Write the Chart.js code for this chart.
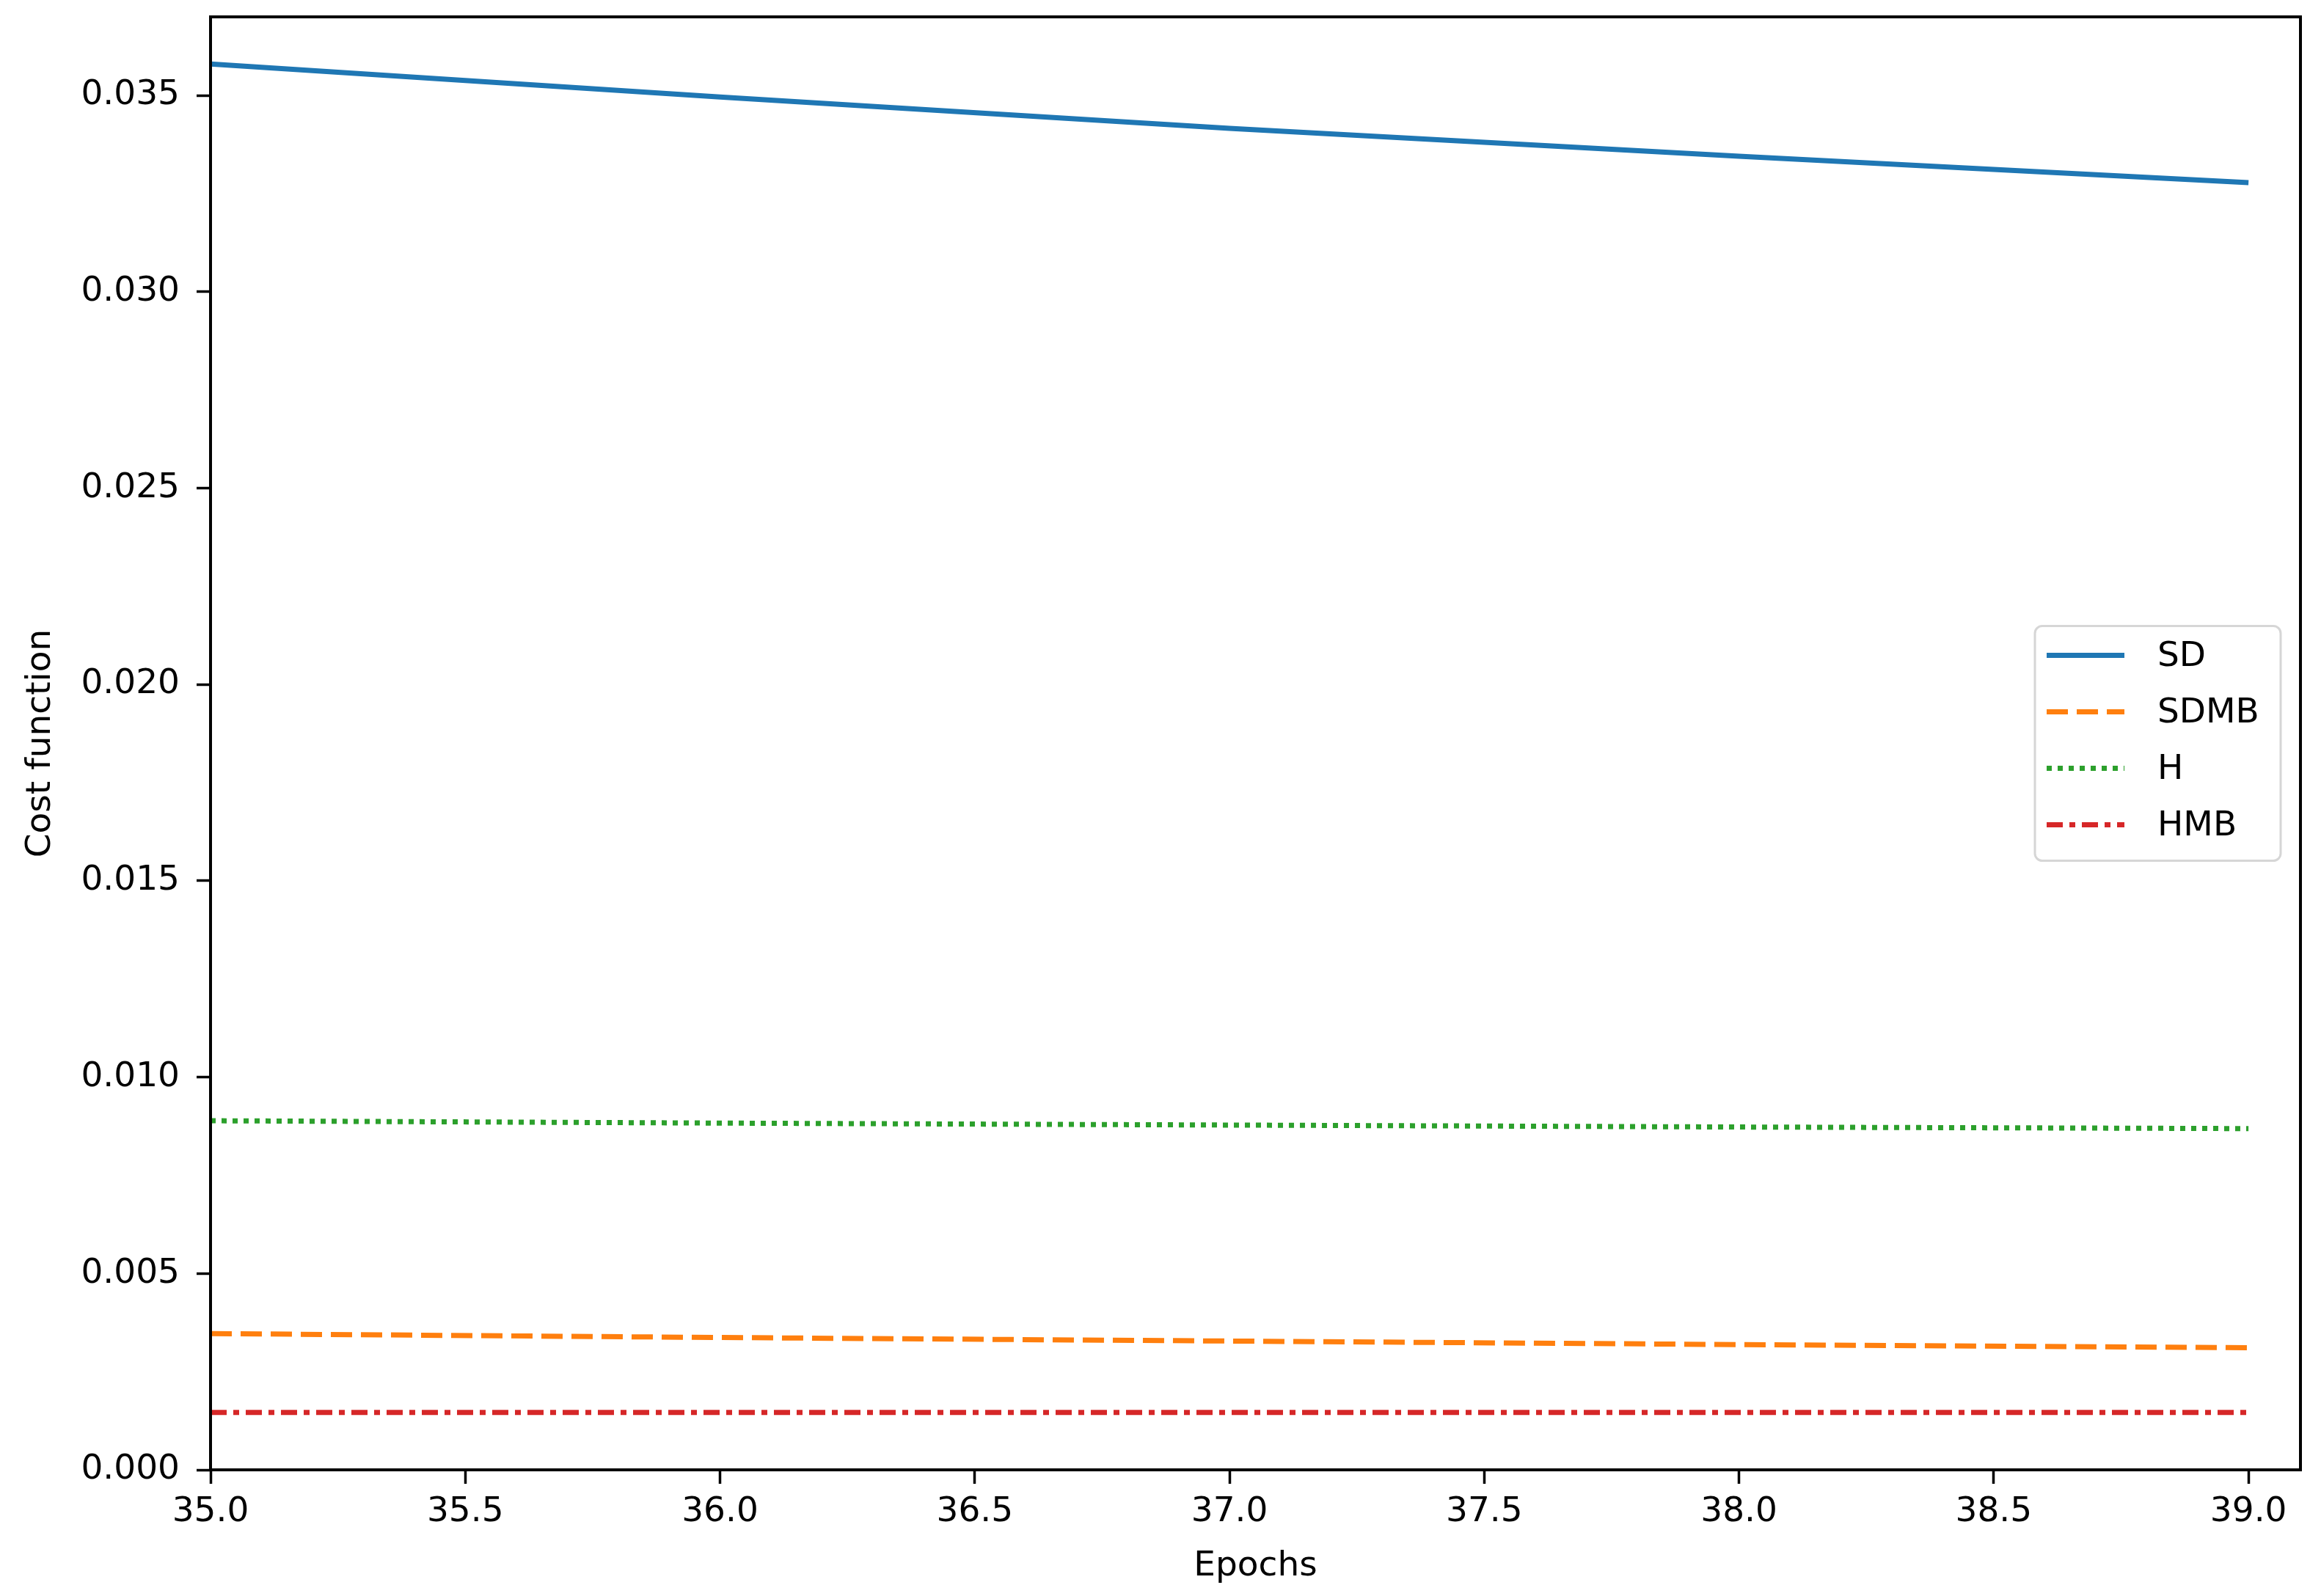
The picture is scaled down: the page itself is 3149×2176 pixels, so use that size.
<!DOCTYPE html>
<html><head><meta charset="utf-8">
<script src="https://cdn.jsdelivr.net/npm/chart.js@4/dist/chart.umd.min.js"></script>
<style>html,body{margin:0;padding:0;background:#fff;} canvas{display:block;}</style>
</head><body>
<canvas id="c" width="3149" height="2176"></canvas>
<script>
const epochs = [35, 36, 37, 38, 39];
const sdValues = [0.03580, 0.03496, 0.03416, 0.03345, 0.03278];
const sdmbValues = [0.00347, 0.00337, 0.00328, 0.00319, 0.00311];
const hValues = [0.00889, 0.00883, 0.00878, 0.00873, 0.00869];
const hmbValues = [0.00146, 0.00146, 0.00146, 0.00146, 0.00146];
const seriesLabels = ['SD', 'SDMB', 'H', 'HMB'];
const xTicks = [35.0, 35.5, 36.0, 36.5, 37.0, 37.5, 38.0, 38.5, 39.0];
const yTicks = [0.000, 0.005, 0.010, 0.015, 0.020, 0.025, 0.030, 0.035];
const xTitle = 'Epochs';
const yTitle = 'Cost function';

const FONT = {family: "'DejaVu Sans', sans-serif", size: 47, lineHeight: 1.2};
const toPts = vals => epochs.map((x, i) => ({x: x, y: vals[i]}));

const styles = [
  {color: '#1f77b4', dash: []},
  {color: '#ff7f0e', dash: [29, 12]},
  {color: '#2ca02c', dash: [7, 8]},
  {color: '#d62728', dash: [22, 9, 8, 9]}
];
const seriesVals = [sdValues, sdmbValues, hValues, hmbValues];

const datasets = seriesLabels.map((lab, i) => ({
  label: lab,
  data: toPts(seriesVals[i]),
  borderColor: styles[i].color,
  backgroundColor: styles[i].color,
  borderWidth: 7,
  borderDash: styles[i].dash,
  borderCapStyle: 'butt',
  pointRadius: 0,
  pointHoverRadius: 0,
  fill: false,
  tension: 0
}));

const frame = {
  id: 'frame',
  afterDatasetsDraw(chart) {
    const {ctx, chartArea: a} = chart;
    ctx.save();
    ctx.strokeStyle = '#000';
    ctx.lineWidth = 4;
    ctx.strokeRect(a.left, a.top, a.right - a.left, a.bottom - a.top);
    ctx.restore();
  }
};

const innerLegend = {
  id: 'innerLegend',
  afterDraw(chart) {
    const {ctx, chartArea: a} = chart;
    const w = 335, h = 320, r = 10;
    const x = a.right - 27 - w;
    const y = (a.top + a.bottom) / 2 - h / 2;
    ctx.save();
    ctx.beginPath();
    ctx.roundRect(x, y, w, h, r);
    ctx.fillStyle = 'rgba(255,255,255,0.8)';
    ctx.fill();
    ctx.lineWidth = 3;
    ctx.strokeStyle = '#d6d6d6';
    ctx.stroke();
    ctx.font = FONT.size + "px 'DejaVu Sans', sans-serif";
    ctx.fillStyle = '#000';
    ctx.textBaseline = 'middle';
    ctx.textAlign = 'left';
    chart.data.datasets.forEach((ds, i) => {
      const yy = y + 40 + i * 77;
      ctx.beginPath();
      ctx.setLineDash(ds.borderDash);
      ctx.lineCap = 'butt';
      ctx.lineWidth = ds.borderWidth;
      ctx.strokeStyle = ds.borderColor;
      ctx.moveTo(x + 16, yy);
      ctx.lineTo(x + 122, yy);
      ctx.stroke();
      ctx.setLineDash([]);
      ctx.fillText(ds.label, x + 167, yy + 2);
    });
    ctx.restore();
  }
};

new Chart(document.getElementById('c'), {
  type: 'line',
  data: {datasets: datasets},
  options: {
    responsive: false,
    animation: false,
    devicePixelRatio: 1,
    layout: {padding: {left: 0, top: 23, right: 13, bottom: 0}},
    plugins: {legend: {display: false}, tooltip: {enabled: false}},
    scales: {
      x: {
        type: 'linear', min: 35, max: 39.102,
        afterBuildTicks: s => { s.ticks = xTicks.map(v => ({value: v})); },
        afterFit: s => { s.height = 172; s.paddingLeft = 0; s.paddingRight = 0; },
        grid: {display: true, drawOnChartArea: false, drawTicks: true, tickLength: 19, tickWidth: 3.5, tickColor: '#000'},
        border: {display: false},
        ticks: {font: FONT, color: '#000', padding: 11, maxRotation: 0, autoSkip: false,
                callback: v => Number(v).toFixed(1)},
        title: {display: true, text: xTitle, font: FONT, color: '#000', padding: {top: 0, bottom: 12}}
      },
      y: {
        type: 'linear', min: 0, max: 0.0370,
        afterBuildTicks: s => { s.ticks = yTicks.map(v => ({value: v})); },
        afterFit: s => { s.width = 287; s.paddingTop = 0; s.paddingBottom = 0; },
        grid: {display: true, drawOnChartArea: false, drawTicks: true, tickLength: 19, tickWidth: 3.5, tickColor: '#000'},
        border: {display: false},
        ticks: {font: FONT, color: '#000', padding: 23, autoSkip: false,
                callback: v => Number(v).toFixed(3)},
        title: {display: true, text: yTitle, font: FONT, color: '#000', padding: {top: 28, bottom: 0}}
      }
    }
  },
  plugins: [frame, innerLegend]
});
</script>
</body></html>
